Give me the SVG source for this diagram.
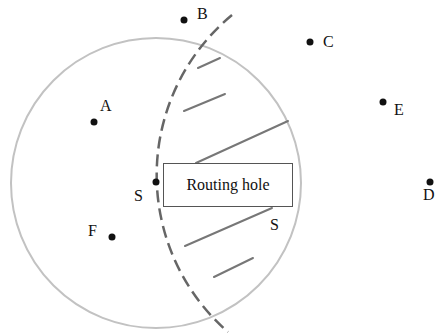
<svg xmlns="http://www.w3.org/2000/svg" width="435" height="335" viewBox="0 0 435 335">
<style>
text{font-family:'Liberation Serif','Times New Roman',serif;font-size:16px;fill:#111}
.dot{fill:#111}
.hatch{stroke:#777;stroke-width:2;fill:none;stroke-linecap:round}
</style>
<rect width="435" height="335" fill="#fff"/>
<g id="region">
<circle cx="156" cy="183" r="145" fill="none" stroke="#c2c2c2" stroke-width="2"/>
</g>
<g id="connectors">
<path d="M232,15 A208,208 0 0,0 228,332" fill="none" stroke="#666" stroke-width="2.5" stroke-dasharray="12 6"/>
<line class="hatch" x1="198" y1="68" x2="220" y2="58"/>
<line class="hatch" x1="184" y1="111" x2="225" y2="94"/>
<line class="hatch" x1="196" y1="163" x2="288" y2="121"/>
<line class="hatch" x1="185" y1="246" x2="272" y2="208"/>
<line class="hatch" x1="214" y1="277" x2="253" y2="258"/>
</g>
<g id="routing-hole">
<rect x="163.5" y="163.5" width="129" height="43" fill="#fff" stroke="#555" stroke-width="1"/>
<text x="228" y="190" text-anchor="middle" font-family="Liberation Serif, serif" font-size="18.5">Routing hole</text>
</g>
<g id="node-A"><circle class="dot" cx="94" cy="122" r="3.5"/><text x="100" y="111" font-family="Liberation Serif, serif">A</text></g>
<g id="node-B"><circle class="dot" cx="184" cy="20" r="3.5"/><text x="197" y="19" font-family="Liberation Serif, serif">B</text></g>
<g id="node-C"><circle class="dot" cx="310" cy="42" r="3.5"/><text x="323" y="47" font-family="Liberation Serif, serif">C</text></g>
<g id="node-E"><circle class="dot" cx="383" cy="102" r="3.5"/><text x="394" y="115" font-family="Liberation Serif, serif">E</text></g>
<g id="node-D"><circle class="dot" cx="430" cy="182" r="3.5"/><text x="423" y="200" font-family="Liberation Serif, serif">D</text></g>
<g id="node-F"><circle class="dot" cx="112" cy="237" r="3.5"/><text x="88" y="236" font-family="Liberation Serif, serif">F</text></g>
<g id="node-S"><circle class="dot" cx="156" cy="182" r="3.5"/><text x="134" y="201" font-family="Liberation Serif, serif">S</text></g>
<g id="label-S2"><text x="270" y="230" font-family="Liberation Serif, serif">S</text></g>
</svg>
